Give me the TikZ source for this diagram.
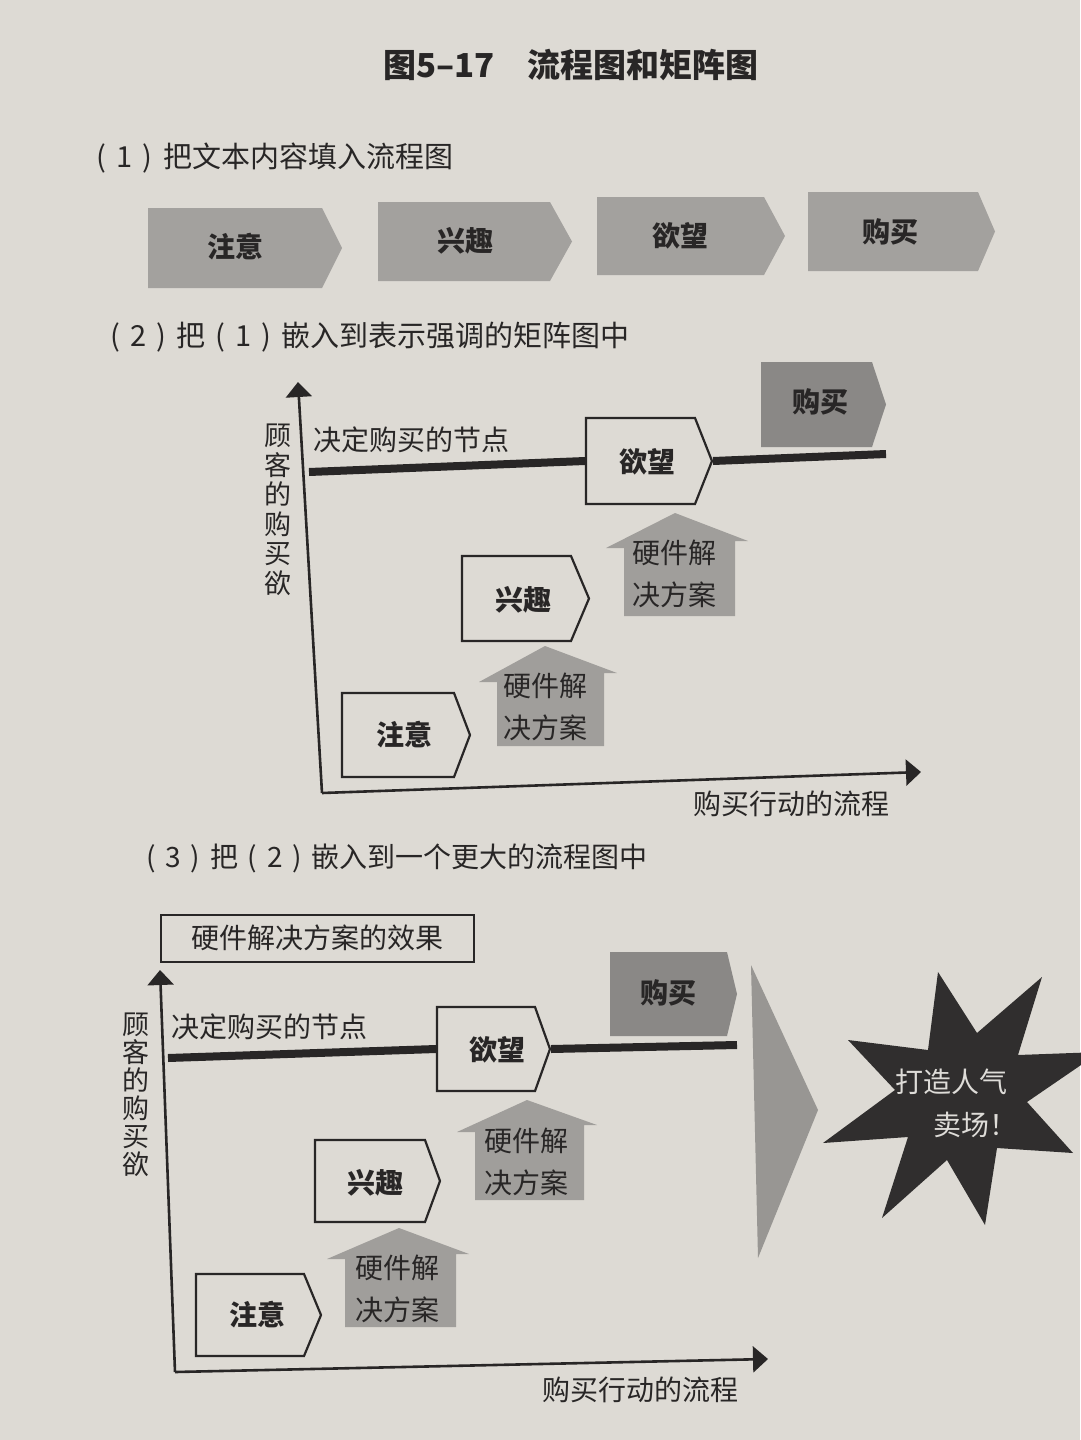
\documentclass[tikz,border=0pt]{standalone}
\usepackage{fontspec}
\setmainfont{Noto Sans CJK SC}
\usetikzlibrary{arrows.meta}

\definecolor{paper}{RGB}{221,218,212}
\definecolor{ink}{RGB}{40,38,38}
\definecolor{flowgray}{RGB}{163,161,158}
\definecolor{buygray}{RGB}{138,136,134}
\definecolor{liftgray}{RGB}{160,158,155}
\definecolor{wedgegray}{RGB}{152,150,147}
\definecolor{burst}{RGB}{48,46,46}
\definecolor{bursttext}{RGB}{222,220,216}

% pentagon arrow box: style, name, left, top, end of flat part, tip x, bottom
\newcommand\chevron[7]{%
  \path[#1] (#3,#4) -- (#5,#4) -- (#6,{(#4+#7)/2}) -- (#5,#7) -- (#3,#7) -- cycle;
  \coordinate (#2-w) at (#3,{(#4+#7)/2});
  \coordinate (#2-e) at (#6,{(#4+#7)/2});
}
% upward block arrow: name, shaft left, shaft right, bottom, head base left y, head base right y, apex x, apex y
\newcommand\liftarrow[8]{%
  \path[lift] (#2,#4) -- (#2,#5) -- ({#2-18},#5) -- (#7,#8) -- ({#3+13},#6)
    -- (#3,#6) -- (#3,#4) -- cycle;
  \coordinate (#1) at ({(#2+#3)/2},#4);
}

\tikzset{
  boxlabel/.style={font=\fontsize{28}{32}\selectfont\bfseries, text=ink, inner sep=0pt},
  plain/.style={font=\fontsize{28}{32}\selectfont, text=ink, inner sep=0pt},
  heading/.style={font=\fontsize{29}{34}\selectfont, text=ink, inner sep=0pt, anchor=west},
  stack/.style={font=\fontsize{27}{29.5}\selectfont, text=ink, inner sep=0pt, align=center},
  liftlabel/.style={font=\fontsize{28}{42}\selectfont, text=ink, inner sep=0pt, align=center},
  flowbox/.style={fill=flowgray},
  buybox/.style={fill=buygray},
  stagebox/.style={fill=paper, draw=ink, line width=2.2pt, line join=miter},
  lift/.style={fill=liftgray},
  axis/.style={draw=ink, line width=2.6pt, -{Triangle[length=15pt,width=26pt]}},
  nodeline/.style={draw=ink, line width=8pt},
}

\begin{document}
\begin{tikzpicture}[x=1pt,y=-1pt]
\fill[paper] (0,0) rectangle (1080,1440);
\useasboundingbox (0,0) rectangle (1080,1440);

% title
\node[font=\fontsize{33}{38}\selectfont\bfseries, text=ink, inner sep=0pt] (title) at (571,65)
  {图5–17\hspace{1em}流程图和矩阵图};

% ---------- (1) plain flow ----------
\node[heading] (h1) at (96,158)
  {(\hspace{0.35em}1\hspace{0.35em})\hspace{0.4em}把文本内容填入流程图};
\chevron{flowbox}{f1}{148}{208}{322}{342}{288}
\node[boxlabel] (f1t) at (235,247) {注意};
\chevron{flowbox}{f2}{378}{202}{550}{572}{281}
\node[boxlabel] (f2t) at (465,241) {兴趣};
\chevron{flowbox}{f3}{597}{197}{764}{785}{275}
\node[boxlabel] (f3t) at (680,236) {欲望};
\chevron{flowbox}{f4}{808}{192}{978}{995}{271}
\node[boxlabel] (f4t) at (890,232) {购买};

% ---------- (2) flow inside the matrix ----------
\node[heading] (h2) at (110,337)
  {(\hspace{0.35em}2\hspace{0.35em})\hspace{0.35em}把\hspace{0.35em}(\hspace{0.35em}1\hspace{0.35em})\hspace{0.35em}嵌入到表示强调的矩阵图中};

\coordinate (o2) at (322,793);
\coordinate (y2) at (298,382);
\coordinate (x2) at (921,772);
\draw[axis] (o2) -- (y2);
\draw[axis] (o2) -- (x2);
\node[stack] (ylab2) at (278,510) {顾\\客\\的\\购\\买\\欲};
\node[plain] (xlab2) at (791,804) {购买行动的流程};
\node[plain, anchor=west] (dec2) at (313,440) {决定购买的节点};

\coordinate (d2a) at (309,472);
\coordinate (d2b) at (886,454);
\chevron{buybox}{b2}{761}{362}{872}{886}{447}
\node[boxlabel] (b2t) at (820,402) {购买};
\chevron{stagebox}{w2}{586}{418}{695}{712}{504}
\draw[nodeline] (d2a) -- ([xshift=-1pt]w2-w);
\draw[nodeline] ([xshift=1pt]w2-e) -- (d2b);
\node[boxlabel] (w2t) at (647,462) {欲望};
\chevron{stagebox}{i2}{462}{556}{571}{589}{641}
\node[boxlabel] (i2t) at (523,600) {兴趣};
\chevron{stagebox}{a2}{342}{693}{454}{470}{777}
\node[boxlabel] (a2t) at (404,735) {注意};

\liftarrow{l2b}{624}{735}{616}{548}{541}{675}{513}
\node[liftlabel] (t2b) at (674,574) {硬件解\\决方案};
\liftarrow{l2a}{497}{604}{746}{682}{673}{545}{646}
\node[liftlabel] (t2a) at (545,707) {硬件解\\决方案};

% ---------- (3) matrix inside a larger flow ----------
\node[heading, font=\fontsize{28}{34}\selectfont] (h3) at (146,858)
  {(\hspace{0.35em}3\hspace{0.35em})\hspace{0.35em}把\hspace{0.35em}(\hspace{0.35em}2\hspace{0.35em})\hspace{0.35em}嵌入到一个更大的流程图中};

\node[plain, draw=ink, line width=2pt, minimum width=313pt, minimum height=47pt] (effect)
  at (317,938) {硬件解决方案的效果};

\coordinate (o3) at (175,1372);
\coordinate (y3) at (160,970);
\coordinate (x3) at (768,1359);
\draw[axis] (o3) -- (y3);
\draw[axis] (o3) -- (x3);
\node[stack, font=\fontsize{27}{28}\selectfont] (ylab3) at (136,1095) {顾\\客\\的\\购\\买\\欲};
\node[plain] (xlab3) at (640,1390) {购买行动的流程};
\node[plain, anchor=west] (dec3) at (171,1027) {决定购买的节点};

\coordinate (d3a) at (168,1058);
\coordinate (d3b) at (737,1045);
\chevron{buybox}{b3}{610}{952}{727}{737}{1036}
\node[boxlabel] (b3t) at (668,993) {购买};
\chevron{stagebox}{w3}{437}{1007}{535}{550}{1091}
\draw[nodeline] (d3a) -- ([xshift=-1pt]w3-w);
\draw[nodeline] ([xshift=1pt]w3-e) -- (d3b);
\node[boxlabel] (w3t) at (497,1050) {欲望};
\chevron{stagebox}{i3}{315}{1140}{425}{440}{1222}
\node[boxlabel] (i3t) at (375,1183) {兴趣};
\chevron{stagebox}{a3}{196}{1274}{304}{321}{1356}
\node[boxlabel] (a3t) at (257,1315) {注意};

\liftarrow{l3b}{475}{584}{1200}{1132}{1125}{527}{1100}
\node[liftlabel] (t3b) at (526,1162) {硬件解\\决方案};
\liftarrow{l3a}{345}{456}{1327}{1259}{1254}{399}{1228}
\node[liftlabel] (t3a) at (397,1289) {硬件解\\决方案};

% wedge leading to the result
\fill[wedgegray] (751,965) -- (818,1110) -- (758,1258) -- cycle;

% burst
\fill[burst] (938,972) -- (977,1033) -- (1042,977) -- (1018,1055) -- (1100,1052)
  -- (1027,1102) -- (1073,1153) -- (997,1148) -- (985,1225) -- (947,1160)
  -- (882,1218) -- (908,1137) -- (823,1143) -- (895,1090) -- (848,1040)
  -- (928,1050) -- cycle;
\node[plain, text=bursttext] (burst1) at (951,1082) {打造人气};
\node[plain, text=bursttext] (burst2) at (975,1125) {卖场！};
\end{tikzpicture}
\end{document}
